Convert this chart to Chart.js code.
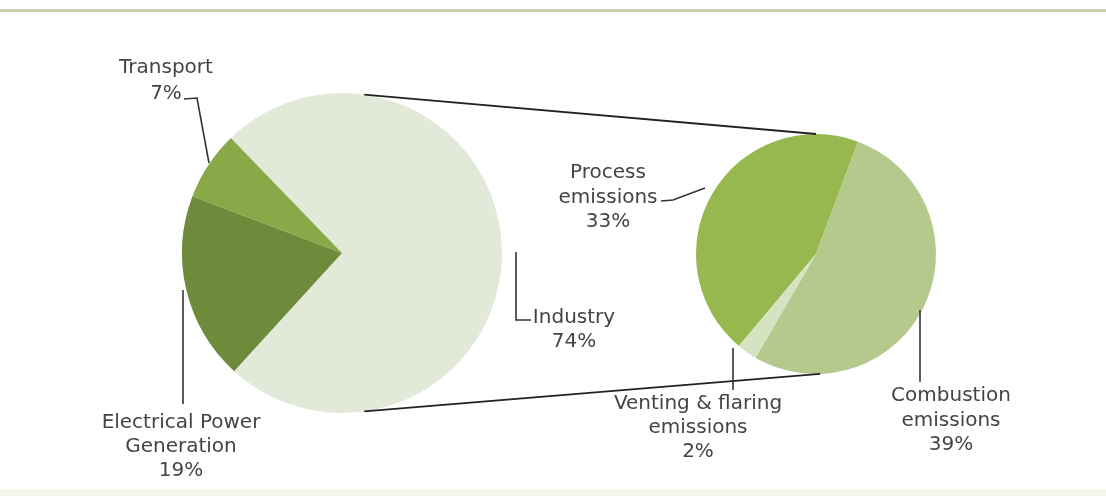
<!DOCTYPE html>
<html>
<head>
<meta charset="utf-8">
<script src="https://cdn.jsdelivr.net/npm/chart.js@4"></script>
<style>
  html, body { margin: 0; padding: 0; background: #fff; }
  #wrap { position: relative; width: 1106px; height: 496px; overflow: hidden; }
  #wrap canvas { position: absolute; left: 0; top: 0; }
  .rule { position: absolute; left: 0; width: 1106px; }
</style>
</head>
<body>
<div id="wrap">
  <div class="rule" style="top:9px;height:3px;background:#c7ceb0;"></div>
  <div class="rule" style="top:489px;height:7px;background:#f3f6e9;"></div>
  <canvas id="mainPie" width="1106" height="496"></canvas>
  <canvas id="subPie" width="1106" height="496"></canvas>
</div>
<script>
// emissions by sector (%)
const sectorLabels = ["Industry", "Electrical Power Generation", "Transport"];
const sectorShares = [74, 19, 7];
const sectorColors = ["#e2e9d9", "#6d8b3b", "#89a949"];

// industry breakdown (% of total)
const industryLabels = ["Process emissions", "Combustion emissions", "Venting & flaring emissions"];
const industryShares = [33, 39, 2];
const industryColors = ["#97b84e", "#b5c98d", "#d6e3c3"];

const FONT = '20px "DejaVu Sans"';
const TEXT_COLOR = "#444";
const LINE_COLOR = "#333";

// label text lines, baselines, leader polylines (in page pixels)
const sectorCallouts = [
  { idx: 0, lines: ["Industry"], x: 574, y: 323, gap: 24,
    leader: [[516, 252], [516, 320], [531, 320]] },
  { idx: 1, lines: ["Electrical Power", "Generation"], x: 181, y: 428, gap: 24,
    leader: [[183, 290], [183, 404]] },
  { idx: 2, lines: ["Transport"], x: 166, y: 73, gap: 26,
    leader: [[184, 99], [197, 98], [209, 163]] }
];
const industryCallouts = [
  { idx: 0, lines: ["Process", "emissions"], x: 608, y: 178, gap: 24.5,
    leader: [[661, 201], [673, 200], [705, 188]] },
  { idx: 1, lines: ["Combustion", "emissions"], x: 951, y: 401, gap: 24.5,
    leader: [[920, 310], [920, 382]] },
  { idx: 2, lines: ["Venting & flaring", "emissions"], x: 698, y: 409, gap: 24,
    leader: [[733, 348], [733, 390]] }
];

function calloutPlugin(callouts, values) {
  return {
    id: "callouts",
    afterDraw(chart) {
      const ctx = chart.ctx;
      ctx.save();
      ctx.strokeStyle = LINE_COLOR;
      ctx.lineWidth = 1.6;
      callouts.forEach(c => {
        ctx.beginPath();
        c.leader.forEach((p, i) => i ? ctx.lineTo(p[0], p[1]) : ctx.moveTo(p[0], p[1]));
        ctx.stroke();
        ctx.font = FONT;
        ctx.fillStyle = TEXT_COLOR;
        ctx.textAlign = "center";
        ctx.textBaseline = "alphabetic";
        const all = c.lines.concat([values[c.idx] + "%"]);
        all.forEach((t, i) => ctx.fillText(t, c.x, c.y + i * c.gap));
      });
      ctx.restore();
    }
  };
}

function pieOptions(padding, rotation) {
  return {
    responsive: false,
    animation: false,
    rotation: rotation,
    layout: { padding: padding },
    plugins: { legend: { display: false }, tooltip: { enabled: false } }
  };
}

const mainChart = new Chart(document.getElementById("mainPie"), {
  type: "pie",
  data: {
    labels: sectorLabels,
    datasets: [{ data: sectorShares, backgroundColor: sectorColors, borderWidth: 0 }]
  },
  options: pieOptions({ left: 182, right: 604, top: 93, bottom: 83 }, 316),
  plugins: [calloutPlugin(sectorCallouts, sectorShares)]
});

// lines joining the big pie to the breakdown pie
const joinPlugin = {
  id: "join",
  afterDraw(chart) {
    const a = mainChart.getDatasetMeta(0).data[0];
    const b = chart.getDatasetMeta(0).data[0];
    const ctx = chart.ctx;
    const pt = (arc, deg) => [arc.x + arc.outerRadius * Math.cos(deg * Math.PI / 180),
                              arc.y + arc.outerRadius * Math.sin(deg * Math.PI / 180)];
    ctx.save();
    ctx.strokeStyle = "#222";
    ctx.lineWidth = 1.8;
    [[-82, -90], [82, 88]].forEach(([da, db]) => {
      const p = pt(a, da), q = pt(b, db);
      ctx.beginPath();
      ctx.moveTo(p[0], p[1]);
      ctx.lineTo(q[0], q[1]);
      ctx.stroke();
    });
    ctx.restore();
  }
};

const subChart = new Chart(document.getElementById("subPie"), {
  type: "pie",
  data: {
    labels: industryLabels,
    datasets: [{ data: industryShares, backgroundColor: industryColors, borderWidth: 0 }]
  },
  options: pieOptions({ left: 696, right: 170, top: 134, bottom: 122 }, 220),
  plugins: [joinPlugin, calloutPlugin(industryCallouts, industryShares)]
});
</script>
</body>
</html>
